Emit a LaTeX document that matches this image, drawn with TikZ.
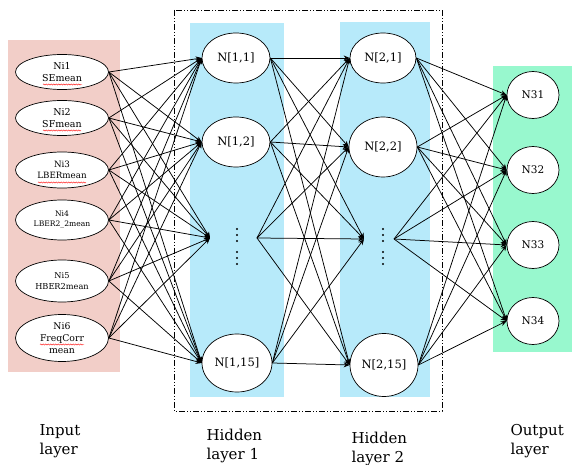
\documentclass[tikz,border=0pt]{standalone}
\usepackage{fontspec}
\setmainfont{DejaVu Serif}
\usetikzlibrary{shapes.geometric,arrows.meta,decorations.pathmorphing}
\definecolor{pinkband}{RGB}{242,206,200}
\definecolor{blueband}{RGB}{183,234,250}
\definecolor{greenband}{RGB}{152,248,206}
\tikzset{
  band/.style={fill=#1,draw=none},
  nell/.style={ellipse,draw=black,fill=white,line width=0.7pt,inner sep=0pt,align=center},
  inell/.style={nell,minimum width=93pt},
  hidell/.style={nell,font=\fontsize{11.5}{13}\selectfont},
  outell/.style={nell,minimum width=52pt,minimum height=47pt,font=\fontsize{10.5}{12}\selectfont},
  edge/.style={line width=0.75pt,-{Stealth[length=6pt,width=5pt]}},
  vdot/.style={fill=black,circle,inner sep=0pt,minimum size=2.4pt},
  squig/.style={red,line width=0.45pt,decorate,decoration={snake,amplitude=0.55pt,segment length=2.5pt}},
  layerlbl/.style={anchor=west,align=left,font=\fontsize{15}{19}\selectfont},
  frame/.style={line width=0.7pt,dash pattern=on 6pt off 2pt on 1pt off 2pt on 1pt off 2pt}
}
\begin{document}
\begin{tikzpicture}[x=1pt,y=-1pt]
\useasboundingbox (0,0) rectangle (582,465);
% bands
\fill[band=pinkband] (8,40) rectangle (120,372);
\fill[band=blueband] (190,23) rectangle (284,397);
\fill[band=blueband] (340,22) rectangle (430,397);
\fill[band=greenband] (493,66) rectangle (572,352);
% dash-dot frame
\draw[frame] (174,10) rectangle (442,411);
% input nodes
\node[inell,minimum height=35pt,font=\fontsize{9.5}{11.5}\selectfont] (i1) at (62,72) {Ni1\\SEmean};
\node[inell,minimum height=35pt,font=\fontsize{9.5}{11.5}\selectfont] (i2) at (62,118) {Ni2\\SFmean};
\node[inell,minimum height=36pt,font=\fontsize{8.7}{11.5}\selectfont] (i3) at (62,170) {Ni3\\LBERmean};
\node[inell,minimum height=40pt,font=\fontsize{7.6}{10}\selectfont] (i4) at (62,220) {Ni4\\LBER2\_2mean};
\node[inell,minimum height=42pt,font=\fontsize{8.2}{11.5}\selectfont] (i5) at (62,281) {Ni5\\HBER2mean};
\node[inell,minimum height=47pt,font=\fontsize{9.3}{12}\selectfont] (i6) at (62,338) {Ni6\\FreqCorr\\mean};
% spell-check squiggles
\draw[squig] (43,84.5) -- (82,84.5);
\draw[squig] (43,130.5) -- (81,130.5);
\draw[squig] (38,182.5) -- (86,182.5);
\draw[squig] (40,344.5) -- (84,344.5);
% hidden layer 1
\node[hidell,minimum width=68pt,minimum height=50pt] (h11) at (236,58) {N[1,1]};
\node[hidell,minimum width=68pt,minimum height=50pt] (h12) at (236,142) {N[1,2]};
\node[hidell,minimum width=70pt,minimum height=58pt] (h115) at (237,363) {N[1,15]};
\coordinate (d1l) at (210,238);
\coordinate (d1r) at (257,238);
\foreach \yy [count=\k] in {229,235,241,252,258,264}
  \node[vdot] (d1dot\k) at (237,\yy) {};
% hidden layer 2
\node[hidell,minimum width=66pt,minimum height=50pt] (h21) at (383,58) {N[2,1]};
\node[hidell,minimum width=68pt,minimum height=60pt] (h22) at (383,147) {N[2,2]};
\node[hidell,minimum width=68pt,minimum height=63pt] (h215) at (384,365) {N[2,15]};
\coordinate (d2l) at (364,239);
\coordinate (d2r) at (394,239);
\foreach \yy [count=\k] in {229,235,241,252,258,264}
  \node[vdot] (d2dot\k) at (383,\yy) {};
% output layer
\node[outell] (o1) at (533,95) {N31};
\node[outell] (o2) at (533,170) {N32};
\node[outell] (o3) at (533,245) {N33};
\node[outell] (o4) at (533,321) {N34};
% connections
\foreach \s in {i1,i2,i3,i4,i5,i6}
  \foreach \t in {h11.west,h12.west,d1l,h115.west}
    \draw[edge] (\s.east) -- (\t);
\foreach \s in {h11.east,h12.east,d1r,h115.east}
  \foreach \t in {h21.west,h22.west,d2l,h215.west}
    \draw[edge] (\s) -- (\t);
\foreach \s in {h21.east,h22.east,d2r,h215.east}
  \foreach \t in {o1.west,o2.west,o3.west,o4.west}
    \draw[edge] (\s) -- (\t);
% layer labels
\node[layerlbl] (l1) at (36,441) {Input\\layer};
\node[layerlbl] (l2) at (203,446) {Hidden\\layer 1};
\node[layerlbl] (l3) at (348,449) {Hidden\\layer 2};
\node[layerlbl] (l4) at (507,441) {Output\\layer};
\end{tikzpicture}
\end{document}
